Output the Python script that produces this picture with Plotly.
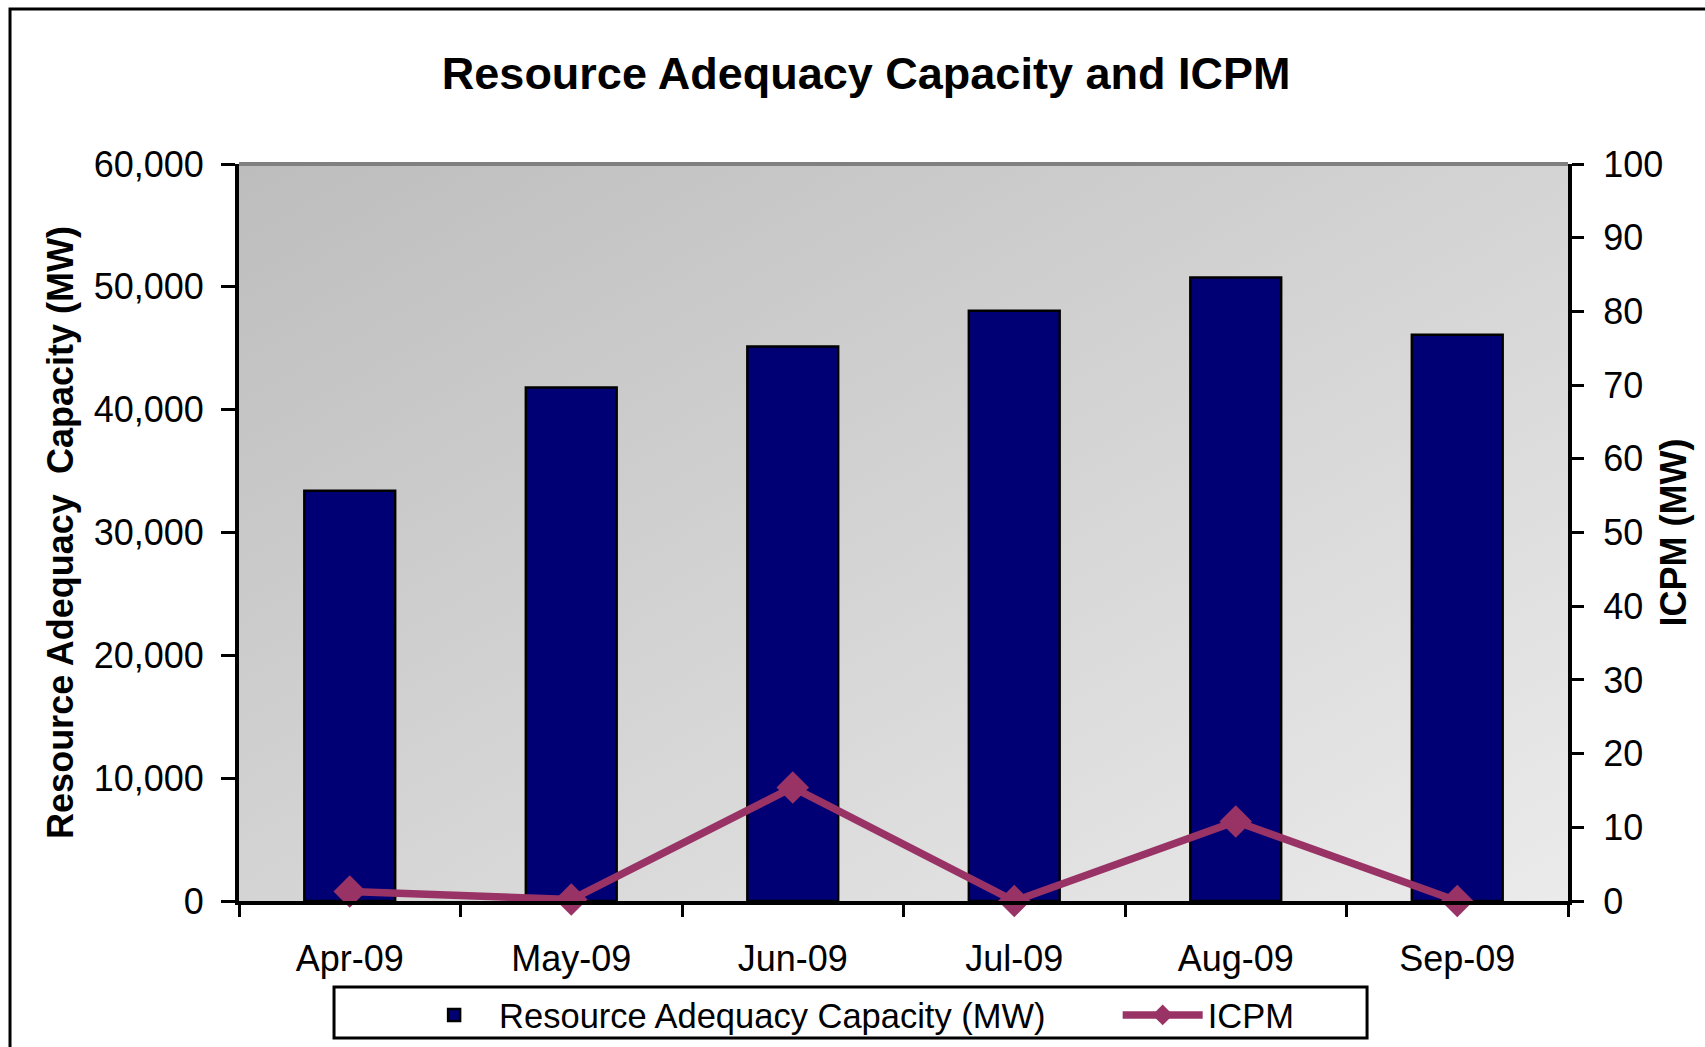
import base64
import plotly.graph_objects as go

months = ['Apr-09', 'May-09', 'Jun-09', 'Jul-09', 'Aug-09', 'Sep-09']
ra_capacity = [33400, 41800, 45150, 48050, 50750, 46100]
icpm = [1.3, 0.2, 15.4, 0, 10.8, 0]
left_ticks = [0, 10000, 20000, 30000, 40000, 50000, 60000]
right_ticks = [0, 10, 20, 30, 40, 50, 60, 70, 80, 90, 100]

FONT = 'Liberation Sans, Arial, sans-serif'
PLUM = '#993366'

# diagonal grey gradient for the plot area
svg = (
    '<svg xmlns="http://www.w3.org/2000/svg" width="200" height="200" preserveAspectRatio="none">'
    '<defs><linearGradient id="g" x1="0" y1="0" x2="1" y2="1">'
    '<stop offset="0" stop-color="#bdbdbd"/><stop offset="1" stop-color="#ebebeb"/>'
    '</linearGradient></defs><rect width="200" height="200" fill="url(#g)"/></svg>'
)
bg_src = 'data:image/svg+xml;base64,' + base64.b64encode(svg.encode()).decode()

fig = go.Figure()
fig.add_trace(
    go.Bar(
        x=months,
        y=ra_capacity,
        name='Resource Adequacy Capacity (MW)' + '\u00a0' * 7,
        marker=dict(color='#000074', line=dict(color='black', width=2.5)),
    )
)
fig.add_trace(
    go.Scatter(
        x=months,
        y=icpm,
        name='ICPM',
        yaxis='y2',
        mode='lines+markers',
        line=dict(color=PLUM, width=7.5),
        marker=dict(symbol='diamond', size=25, color=PLUM),
        cliponaxis=False,
    )
)

fig.update_layout(
    width=1705,
    height=1047,
    margin=dict(l=239, r=137, t=164, b=146, autoexpand=False),
    paper_bgcolor='white',
    plot_bgcolor='rgba(0, 0, 0, 0)',
    font=dict(family=FONT, size=36, color='black'),
    title=dict(
        text='<b>Resource Adequacy Capacity and ICPM</b>',
        font=dict(size=45, family=FONT),
        xref='container', x=0.508, xanchor='center',
        yref='container', y=0.93, yanchor='middle',
    ),
    bargap=0.59,
    showlegend=True,
    legend=dict(
        orientation='h',
        x=0.128, xanchor='left',
        yref='container', y=0.0583, yanchor='top',
        borderwidth=0,
        bgcolor='rgba(0, 0, 0, 0)',
        font=dict(size=34.5, family=FONT),
        itemwidth=80,
    ),
    xaxis=dict(
        type='category',
        tickson='boundaries',
        ticks='outside', ticklen=12, tickwidth=3, tickcolor='black',
        showline=True, linewidth=4, linecolor='black',
        showgrid=False,
        ticklabelstandoff=23,
    ),
    yaxis=dict(
        range=[0, 60000],
        tickvals=left_ticks,
        tickformat=',',
        ticks='outside', ticklen=14, tickwidth=3, tickcolor='black',
        showline=True, linewidth=4, linecolor='black',
        showgrid=False, zeroline=False,
        ticklabelstandoff=10,
        title=dict(text='<b>Resource Adequacy  Capacity (MW)</b>', font=dict(size=36), standoff=10),
    ),
    yaxis2=dict(
        overlaying='y',
        side='right',
        range=[0, 100],
        tickvals=right_ticks,
        ticks='outside', ticklen=12, tickwidth=3, tickcolor='black',
        showline=True, linewidth=4, linecolor='black',
        showgrid=False, zeroline=False,
        ticklabelstandoff=12,
        title=dict(text='<b>ICPM (MW)</b>', font=dict(size=36), standoff=0),
    ),
    images=[dict(
        source=bg_src, xref='paper', yref='paper', x=0, y=1,
        sizex=1, sizey=1, sizing='stretch', layer='below',
    )],
    shapes=[
        # grey top edge of the plot area
        dict(type='line', xref='paper', yref='paper', x0=0, x1=1, y0=1, y1=1,
             line=dict(color='#808080', width=4)),
        # outer chart frame (cropped on the right and bottom)
        dict(type='rect', xref='paper', yref='paper', x0=-0.1723, x1=1.3, y0=-0.4, y1=1.2103,
             line=dict(color='black', width=3), layer='below'),
        # legend box
        dict(type='rect', xref='paper', yref='paper', x0=0.0715, x1=0.8488, y0=-0.1859, y1=-0.1167,
             line=dict(color='black', width=3), fillcolor='white', layer='below'),
    ],
)

fig.write_html(
    'out.html',
    config={'displayModeBar': False},
    post_script="document.body.style.margin='0';",
)
